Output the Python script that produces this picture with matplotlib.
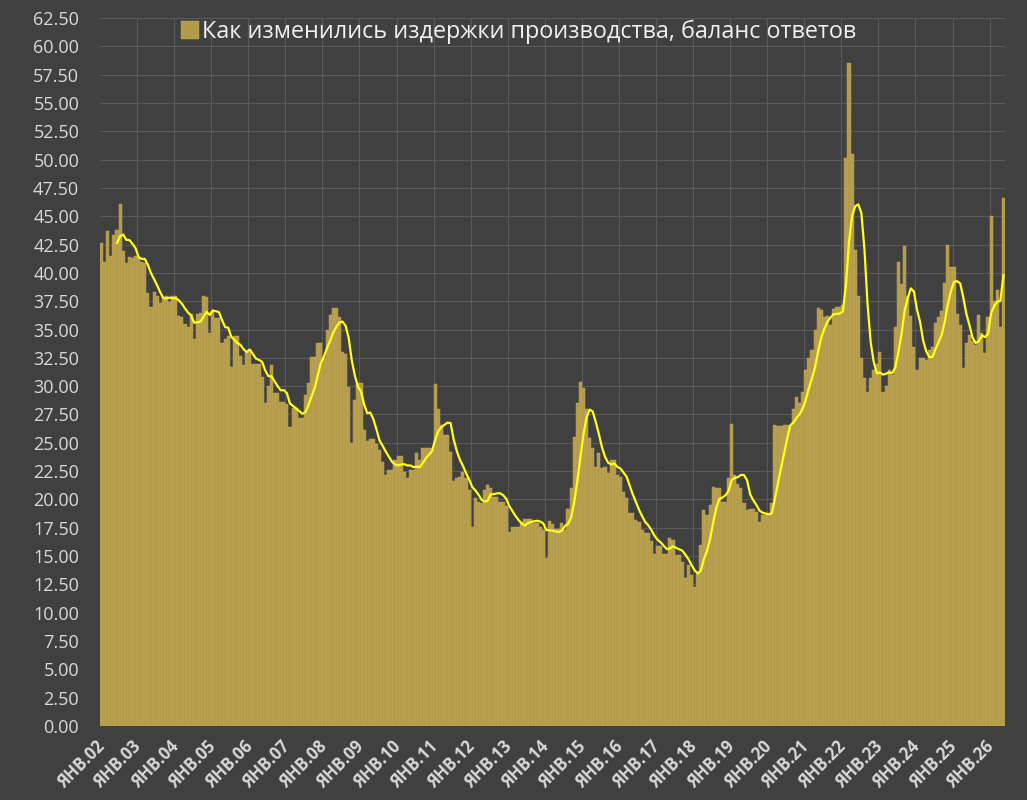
import numpy as np
import pandas as pd
import matplotlib
matplotlib.use('Agg')
import matplotlib.pyplot as plt
from matplotlib.ticker import FormatStrFormatter

plt.rcParams['font.family'] = ['Open Sans', 'DejaVu Sans']

# баланс ответов по месяцам, янв.2002 - май.2026
balance = [
    42.6, 41.0, 43.7, 41.5, 43.3, 43.8, 46.1, 41.9, 40.9, 41.4, 41.3, 41.5,  # 2002
    41.3, 41.0, 40.9, 38.2, 37.0, 38.3, 38.0, 37.3, 37.9, 38.0, 37.4, 38.0,  # 2003
    38.0, 36.2, 36.1, 35.5, 35.2, 36.4, 34.2, 36.4, 36.5, 38.0, 37.9, 34.7,  # 2004
    36.6, 36.0, 36.0, 33.8, 34.2, 34.4, 31.7, 34.4, 34.4, 32.7, 31.9, 33.0,  # 2005
    33.0, 32.0, 32.0, 32.0, 30.8, 28.5, 30.0, 31.9, 29.4, 29.4, 28.6, 28.6,  # 2006
    28.4, 26.4, 28.1, 28.1, 27.2, 27.2, 29.2, 30.3, 32.6, 32.6, 33.8, 33.8,  # 2007
    32.5, 35.0, 36.3, 36.9, 36.9, 36.1, 33.0, 32.8, 29.9, 25.0, 28.8, 30.3,  # 2008
    30.3, 26.1, 25.2, 25.3, 25.3, 24.9, 24.4, 23.3, 22.2, 22.6, 22.6, 23.5,  # 2009
    23.8, 23.8, 22.4, 21.9, 22.6, 22.6, 24.1, 23.5, 24.5, 24.5, 24.5, 24.5,  # 2010
    30.2, 28.0, 26.6, 25.7, 25.7, 24.2, 21.6, 21.9, 22.0, 22.4, 21.9, 20.8,  # 2011
    17.6, 20.1, 19.8, 19.7, 20.8, 21.3, 21.0, 20.2, 20.2, 19.8, 19.8, 19.4,  # 2012
    17.1, 17.6, 17.6, 17.6, 18.0, 18.3, 18.3, 18.3, 17.9, 17.9, 17.6, 17.3,  # 2013
    14.8, 18.1, 17.8, 17.4, 17.4, 17.9, 17.3, 19.2, 21.0, 25.5, 28.5, 30.4,  # 2014
    29.8, 28.0, 25.4, 24.5, 22.9, 24.1, 22.8, 22.9, 22.3, 23.5, 23.5, 22.2,  # 2015
    22.0, 20.7, 20.1, 18.8, 18.8, 18.2, 18.0, 17.3, 17.0, 17.0, 16.3, 15.2,  # 2016
    15.9, 15.9, 15.2, 15.2, 16.6, 16.4, 15.1, 15.1, 14.5, 13.1, 14.2, 13.3,  # 2017
    12.3, 13.4, 16.0, 19.1, 18.6, 19.5, 21.1, 21.0, 21.0, 19.8, 19.8, 21.9,  # 2018
    26.7, 22.2, 21.4, 21.0, 19.7, 19.1, 19.2, 19.2, 18.9, 18.0, 18.6, 18.6,  # 2019
    18.8, 19.7, 26.6, 26.5, 26.5, 26.6, 26.6, 26.5, 28.0, 29.0, 28.5, 29.5,  # 2020
    31.4, 32.5, 33.2, 35.0, 36.9, 36.7, 36.1, 36.2, 35.4, 36.8, 37.0, 37.0,  # 2021
    37.2, 50.1, 58.5, 50.5, 42.0, 38.0, 32.5, 30.7, 29.5, 30.7, 31.4, 32.0,  # 2022
    33.0, 29.5, 30.0, 31.4, 31.0, 35.2, 41.0, 39.0, 42.4, 38.0, 36.2, 33.5,  # 2023
    31.4, 32.5, 32.5, 32.3, 33.2, 33.5, 35.6, 36.1, 36.6, 39.1, 42.5, 40.5,  # 2024
    40.5, 36.4, 35.4, 31.6, 33.8, 34.5, 34.0, 33.6, 36.3, 34.7, 32.9, 36.1,  # 2025
    45.0, 37.5, 38.5, 35.2, 46.6,                                            # 2026
]
year_labels = ['ЯНВ.%02d' % y for y in range(2, 27)]
series_name = 'Как изменились издержки производства, баланс ответов'

bg = '#404040'
txt = '#D9D9D9'

fig, ax = plt.subplots(figsize=(10.27, 8), dpi=100)
fig.patch.set_facecolor(bg)
ax.set_facecolor(bg)
fig.subplots_adjust(left=0.0974, right=0.9786, top=0.9775, bottom=0.0925)

x = np.arange(len(balance))
ax.bar(x, balance, width=1.0, color='#B39B49', edgecolor='#C4AE60',
       linewidth=0.3, label=series_name, zorder=2)

# скользящее среднее за 6 месяцев
ma6 = pd.Series(balance).rolling(6).mean()
ax.plot(x, ma6, color='#FFFF1A', lw=1.6, zorder=3)

ax.set_xlim(-0.5, len(balance) - 0.5)
ax.set_ylim(0, 62.5)
ax.set_yticks(np.arange(0, 62.51, 2.5))
ax.yaxis.set_major_formatter(FormatStrFormatter('%.2f'))

ax.set_xticks(np.arange(0, len(balance), 12))
ax.set_xticklabels(year_labels, rotation=45, ha='right', va='center',
                   rotation_mode='anchor', fontweight='bold')
ax.set_xticks(np.arange(11.5, len(balance), 12), minor=True)

ax.tick_params(axis='y', colors=txt, length=0, labelsize=13, pad=15)
ax.tick_params(axis='x', which='major', colors=txt, length=0, labelsize=12, pad=13)
ax.tick_params(axis='x', which='minor', length=0)

ax.set_axisbelow(True)
ax.grid(axis='y', color='#5A5A5A', lw=0.8)
ax.grid(axis='x', which='minor', color='#5A5A5A', lw=0.8)
for s in ax.spines.values():
    s.set_visible(False)

fig.legend(loc='center', bbox_to_anchor=(0.505, 0.96), frameon=False,
           fontsize=16.8, labelcolor='#F0F0F0', handlelength=0.75,
           handleheight=0.75, handletextpad=0.15)

plt.savefig('out.png', dpi=100, facecolor=bg)
